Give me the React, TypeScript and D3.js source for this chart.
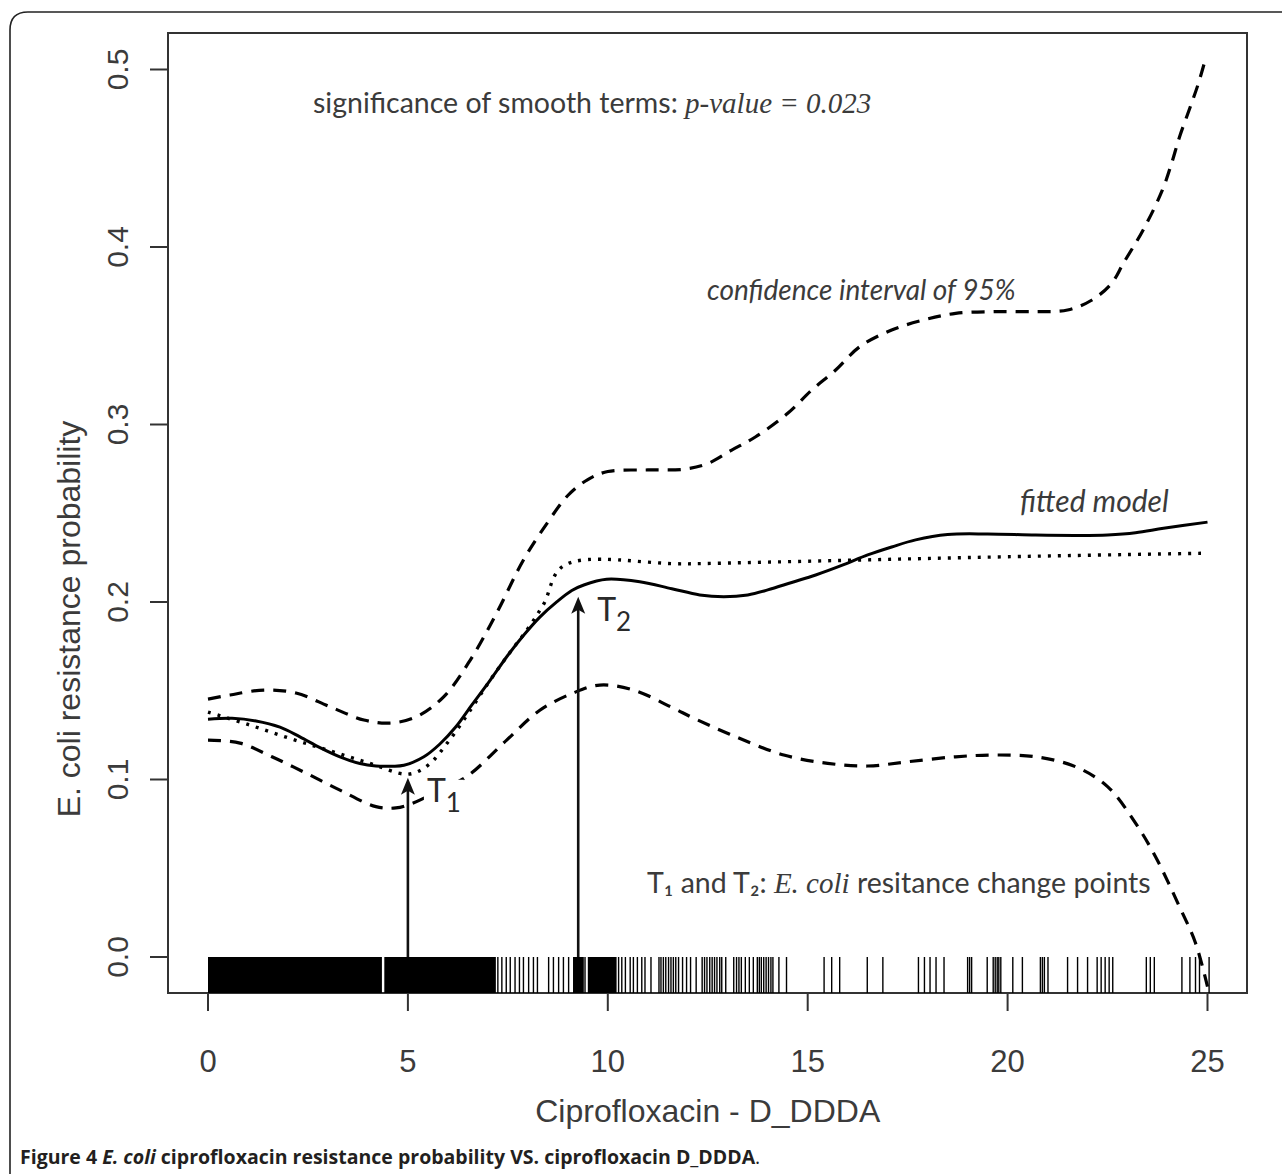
import * as d3 from "d3";
import React from "react";

// axis ticks
const xTicks = [0, 5, 10, 15, 20, 25];
const yTicks = [0, 0.1, 0.2, 0.3, 0.4, 0.5];

// fitted GAM curve (solid)
const fitted: [number, number][] = [
  [0, 0.134], [0.6, 0.1345], [1.2, 0.133], [1.8, 0.1295], [2.3, 0.124], [2.8, 0.118],
  [3.3, 0.1128], [3.8, 0.109], [4.2, 0.1076], [4.6, 0.1075], [4.9, 0.108], [5.4, 0.1128],
  [5.8, 0.12], [6.2, 0.1297], [6.6, 0.142], [7.06, 0.156], [7.5, 0.17], [7.9, 0.1814],
  [8.3, 0.1915], [8.73, 0.2002], [9.1, 0.2065], [9.4, 0.2096], [9.97, 0.2128], [10.8, 0.2114],
  [11.6, 0.2075], [12.3, 0.204], [12.9, 0.203], [13.5, 0.204], [14.0, 0.2068], [14.6, 0.211],
  [15.2, 0.2152], [15.9, 0.221], [16.5, 0.2265], [17.1, 0.231], [17.7, 0.235], [18.5, 0.238],
  [19.5, 0.2383], [20.7, 0.2377], [21.8, 0.2375], [22.5, 0.2378], [23.2, 0.239], [23.9, 0.2415],
  [25, 0.245],
];

// segmented model (dotted)
const segmented: [number, number][] = [
  [0, 0.138], [1, 0.131], [2, 0.1235], [3, 0.1165], [4, 0.1095], [5, 0.103], [5.5, 0.108],
  [6, 0.121], [6.5, 0.137], [7, 0.154], [7.5, 0.17], [8, 0.185], [8.4, 0.199], [8.9, 0.2205],
  [12, 0.2215], [16, 0.2235], [20, 0.2255], [25, 0.2275],
];

// 95% confidence band
const upperCI: [number, number][] = [
  [0, 0.1453], [0.55, 0.1476], [1.4, 0.1504], [2.2, 0.1487], [3.05, 0.141], [3.9, 0.1335],
  [4.55, 0.1318], [5.22, 0.1354], [5.9, 0.1467], [6.56, 0.1673], [7.22, 0.1938], [7.89, 0.2237],
  [8.5, 0.245], [9.0, 0.26], [9.5, 0.269], [10.0, 0.2735], [11.0, 0.2744], [11.9, 0.2748],
  [12.5, 0.278], [13.1, 0.2856], [13.7, 0.2931], [14.5, 0.3063], [15.1, 0.3194], [15.7, 0.3307],
  [16.3, 0.3438], [17.1, 0.3532], [17.9, 0.3589], [18.7, 0.3626], [19.7, 0.3636], [20.7, 0.3636],
  [21.5, 0.3645], [22.1, 0.37], [22.6, 0.3795], [22.9, 0.391], [23.4, 0.41], [23.87, 0.432],
  [24.1, 0.447], [24.3, 0.462], [24.57, 0.479], [24.77, 0.492], [24.95, 0.506],
];

const lowerCI: [number, number][] = [
  [0, 0.1222], [0.8, 0.1205], [1.6, 0.1128], [2.46, 0.1035], [3.3, 0.094], [4.2, 0.0847],
  [4.7, 0.084], [5.1, 0.0865], [5.8, 0.094], [6.47, 0.1016], [7.47, 0.1222], [8.3, 0.139],
  [9.13, 0.1487], [9.8, 0.1532], [10.64, 0.1504], [11.57, 0.141], [12.2, 0.134], [13.2, 0.1241],
  [14.4, 0.1138], [15.5, 0.1091], [16.5, 0.1076], [17.5, 0.11], [18.7, 0.1128], [19.7, 0.1138],
  [20.7, 0.1128], [21.7, 0.1072], [22.5, 0.096], [23.2, 0.0754], [23.7, 0.0565], [24.3, 0.0283],
  [24.7, 0.0079], [25, -0.0167],
];

// rug: stretches so dense they print solid, then single observations
const rugBlocks: [number, number][] = [[0, 4.35], [4.41, 7.2], [9.13, 9.4], [9.5, 10.22]];
const rugTicks: number[] = [
  7.25, 7.35, 7.46, 7.56, 7.68, 7.79, 7.89, 8.02, 8.14, 8.24, 8.52, 8.64, 8.77, 8.89, 9.02, 9.43,
  10.27, 10.35, 10.44, 10.56, 10.64, 10.74, 10.85, 10.93, 11.08, 11.28, 11.33, 11.39, 11.45, 11.52,
  11.58, 11.64, 11.7, 11.77, 11.87, 11.97, 12.07, 12.21, 12.36, 12.42, 12.48, 12.55, 12.61, 12.67,
  12.73, 12.8, 12.85, 12.95, 13.15, 13.22, 13.28, 13.34, 13.44, 13.54, 13.64, 13.74, 13.79, 13.84,
  13.9, 13.96, 14.02, 14.08, 14.13, 14.28, 14.47, 15.41, 15.6, 15.8, 16.49, 16.88, 17.77, 17.92,
  18.06, 18.21, 18.41, 19.0, 19.05, 19.1, 19.49, 19.64, 19.69, 19.74, 19.78, 19.83, 20.13, 20.37,
  20.82, 20.87, 20.92, 21.01, 21.5, 21.75, 22.0, 22.24, 22.34, 22.44, 22.54, 22.63, 23.47, 23.57,
  23.67, 24.36, 24.56, 24.7, 24.8, 25.04,
];

const changePoints = [
  { sub: "1", x: 5, tip: 0.101, mask: true },
  { sub: "2", x: 9.26, tip: 0.203, mask: false },
];

const annotFont = "Lato, 'Open Sans', sans-serif";
const serifFont = "'Liberation Serif', 'Times New Roman', serif";
const axisFont = "'Liberation Sans', Arial, sans-serif";
const ink = "#3b3b3b";

const App = () => {
  const width = 1282, height = 1174;
  const box = { left: 168, top: 33, right: 1247, bottom: 993 };

  const x = d3.scaleLinear().domain([0, 25]).range([208, 1207.5]);
  const y = d3.scaleLinear().domain([0, 0.5]).range([957, 69.5]);

  const line = d3.line<[number, number]>()
    .x(d => x(d[0]))
    .y(d => y(d[1]))
    .curve(d3.curveCatmullRom.alpha(0.5));

  const rugTop = y(0);

  return (
    <svg width={width} height={height} style={{ position: "absolute", left: 0, top: 0, background: "#fff" }}>
      {/* figure frame (open at the bottom and right) */}
      <path d="M10,1174 V30 Q10,12 28,12 H1282" fill="none" stroke="#222" strokeWidth={1.6} />

      {/* plot box */}
      <rect x={box.left} y={box.top} width={box.right - box.left} height={box.bottom - box.top}
        fill="none" stroke="#333" strokeWidth={2} />

      {/* y axis */}
      {yTicks.map(t => (
        <g key={"y" + t}>
          <line x1={box.left - 18} x2={box.left} y1={y(t)} y2={y(t)} stroke="#333" strokeWidth={2} />
          <text transform={`translate(128,${y(t)}) rotate(-90)`} textAnchor="middle"
            fontFamily={axisFont} fontSize={30} fill={ink}>{d3.format(".1f")(t)}</text>
        </g>
      ))}
      <text transform={`translate(80,${(y(0.1) + y(0.3)) / 2 + 17}) rotate(-90)`} textAnchor="middle"
        fontFamily={axisFont} fontSize={32} fill={ink}>E. coli resistance probability</text>

      {/* x axis */}
      {xTicks.map(t => (
        <g key={"x" + t}>
          <line x1={x(t)} x2={x(t)} y1={box.bottom} y2={box.bottom + 18} stroke="#333" strokeWidth={2} />
          <text x={x(t)} y={1072} textAnchor="middle" fontFamily={axisFont} fontSize={31} fill={ink}>{t}</text>
        </g>
      ))}
      <text x={(x(0) + x(25)) / 2} y={1122} textAnchor="middle" fontFamily={axisFont} fontSize={32} fill={ink}>
        Ciprofloxacin - D_DDDA
      </text>

      {/* rug */}
      {rugBlocks.map(([a, b], i) => (
        <rect key={"rb" + i} x={x(a)} y={rugTop} width={x(b) - x(a)} height={box.bottom - rugTop} fill="#000" />
      ))}
      {rugTicks.map((v, i) => (
        <line key={"rt" + i} x1={x(v)} x2={x(v)} y1={rugTop} y2={box.bottom} stroke="#000" strokeWidth={1.4} />
      ))}

      {/* curves */}
      <path d={line(upperCI) || ""} fill="none" stroke="#000" strokeWidth={3.2} strokeDasharray="13 9" />
      <path d={line(lowerCI) || ""} fill="none" stroke="#000" strokeWidth={3.2} strokeDasharray="13 9" />
      <path d={line(segmented) || ""} fill="none" stroke="#000" strokeWidth={3.4} strokeDasharray="3 7" />
      <path d={line(fitted) || ""} fill="none" stroke="#000" strokeWidth={3} />

      {/* change point arrows */}
      {changePoints.map(cp => {
        const px = x(cp.x), tip = y(cp.tip);
        return (
          <g key={"cp" + cp.sub}>
            {cp.mask && <rect x={px + 16} y={tip + 2} width={40} height={38} fill="#fff" />}
            <line x1={px} x2={px} y1={y(0)} y2={tip + 10} stroke="#111" strokeWidth={2.6} />
            <path d={`M${px},${tip} L${px - 7},${tip + 17} L${px},${tip + 13} L${px + 7},${tip + 17} Z`} fill="#111" />
            <text x={px + 19} y={tip + 24} fontFamily={annotFont} fontSize={32} fill="#2a2a2a">
              T<tspan fontSize={26} dy={10}>{cp.sub}</tspan>
            </text>
          </g>
        );
      })}

      {/* annotations */}
      <text x={313} y={113} fontFamily={annotFont} fontSize={28.5} fill={ink}>
        significance of smooth terms:{" "}
        <tspan fontFamily={serifFont} fontStyle="italic" fontSize={29}>p-value = 0.023</tspan>
      </text>
      <text x={707} y={300} fontFamily={annotFont} fontStyle="italic" fontSize={28} fill={ink}>
        confidence interval of 95%
      </text>
      <text x={1020} y={512} fontFamily={annotFont} fontStyle="italic" fontSize={30} fill={ink}>
        fitted model
      </text>
      <text x={647} y={893} fontFamily={annotFont} fontSize={28.5} fill={ink}>
        T₁ and T₂:{" "}
        <tspan fontFamily={serifFont} fontStyle="italic" fontSize={29}>E. coli</tspan>
        {" "}resitance change points
      </text>

      {/* caption */}
      <text x={20} y={1164} fontFamily="'Open Sans', 'Noto Sans', sans-serif" fontSize={19.5} fontWeight="bold" fill="#231f20">
        Figure 4 <tspan fontStyle="italic">E. coli</tspan> ciprofloxacin resistance probability VS. ciprofloxacin D_DDDA
        <tspan fontWeight="normal">.</tspan>
      </text>
    </svg>
  );
};

export default App;
